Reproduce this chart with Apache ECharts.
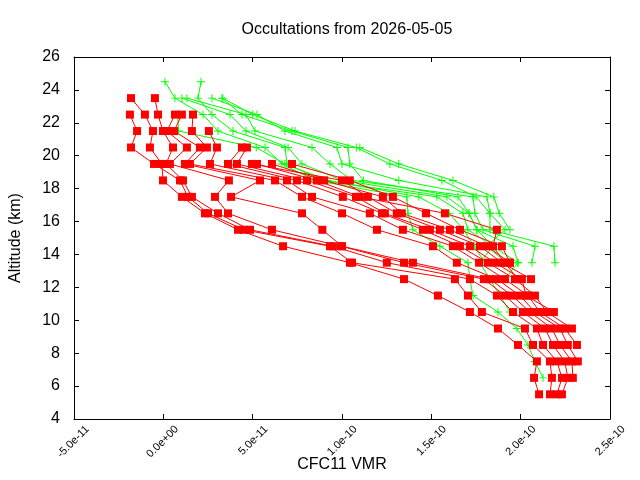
<!DOCTYPE html>
<html>
<head>
<meta charset="utf-8">
<script src="https://cdn.jsdelivr.net/npm/echarts@6/dist/echarts.min.js"></script>
<style>
html, body { margin: 0; padding: 0; background: #fff; }
#chart { width: 640px; height: 480px; }
</style>
</head>
<body>
<div id="chart"></div>
<script>
// profile values are in units of 1e-11 VMR, one entry per altitude level (null = no point)
var UNIT = 1e-11;

var redLevels = [23.5, 22.5, 21.5, 20.5, 19.5, 18.5, 17.5, 16.5, 15.5, 14.5,
                 13.5, 12.5, 11.5, 10.5, 9.5, 8.5, 7.5, 6.5, 5.5];
var redProfiles = [
    [-1.81, -1.03, -0.58, -0.75, -0.08, -0.02, 1.04, 2.33, 4.18, 6.70, 10.44, 13.47, 15.37, 17.16, 18.73, 19.85, 20.91, 20.75, 21.03],
    [null, -1.87, -1.47, -1.81, -0.52, 0.93, 1.38, 2.50, 4.51, 9.33, 10.56, 16.32, 17.05, 17.83, 20.24, 20.69, 21.64, 21.75, 21.64],
    [-0.47, -0.30, -0.02, 0.54, 0.15, 1.10, 1.60, 3.06, 4.85, 9.49, 12.51, 17.16, 18.67, 19.57, 20.91, 21.25, 22.03, 22.31, 22.03],
    [null, 0.65, 0.20, 1.32, 0.37, 3.67, 2.89, 3.62, 6.08, 9.94, 13.47, 17.94, 19.12, 20.13, 21.36, 21.81, 22.47, 22.64, 22.31],
    [null, 1.04, 0.60, 2.05, 1.21, 5.41, 3.79, 7.76, 8.90, 10.00, 13.97, 18.28, 19.51, 20.52, 21.75, 22.20, 22.87, 22.92],
    [null, 1.66, 1.60, 2.44, 1.49, 6.25, 7.76, 10.00, 11.96, 15.09, 16.43, 18.67, 19.96, 20.80, 22.20, 22.64, 23.20],
    [null, null, 2.55, 3.00, 2.61, 6.92, 8.32, 11.56, 13.41, 16.21, 17.67, 19.12, 20.41, 21.08, 22.47, 23.15],
    [null, null, null, 4.40, 3.62, 7.48, 10.05, 12.24, 14.53, 16.60, 18.17, 19.68, 20.80, 21.47, 22.87],
    [null, null, null, 4.68, 4.12, 8.04, 10.78, 12.40, 14.92, 17.16, 18.56, 20.07, 20.30, 21.86],
    [null, null, null, null, 4.96, 10.00, 11.45, 13.07, 15.48, 17.72, 18.95, 20.58],
    [null, null, null, null, 6.08, 9.00, 12.29, 13.35, 16.04, 18.11, 19.40],
    [null, null, null, null, 7.20, 10.44, 12.85, 14.70, 16.60, 18.95, 19.40],
    [null, null, null, null, 5.24, 8.60, 11.00, 15.76, 18.67, 18.45, 19.10, 19.85]
];

var greenLevels = [24.5, 23.5, 22.5, 21.5, 20.5, 19.5, 18.5, 17.5, 16.5, 15.5,
                   14.5, 13.5, 12.5, 11.5, 10.5, 9.5, 8.5, 7.5, 6.5, 5.5];
var greenProfiles = [
    [0.09, 0.65, 2.22, 3.06, 5.69, 6.64, 8.49, 13.63, 13.69, 13.97, 15.48, 17.05, 17.16, 17.33, 18.73, 19.79, 20.41, 20.80, 21.25],
    [2.11, 1.94, 2.72, 3.90, 6.81, 6.92, 8.88, 15.31, 16.77, 17.05, 18.45, 17.72, 18.28, 18.84, 19.40],
    [null, 1.04, 3.73, 4.63, 6.98, 7.76, 10.05, 15.87, 17.11, 17.55, 19.57, 19.85, 19.12],
    [null, 1.32, 4.63, 5.13, 8.32, 9.33, 10.56, 17.33, 17.44, 17.89, 20.80, 20.63],
    [null, 2.72, 5.24, 6.81, 9.72, 10.00, 13.18, 18.11, 18.28, 18.28, 21.86, 21.92],
    [null, 3.28, 4.40, 7.20, 10.33, 10.44, 11.20, 16.49, 17.11, 17.55, 18.45, 19.85],
    [null, 3.33, 5.00, 7.37, 10.80, 12.68, 15.59, 17.50, 18.28, 19.12, 18.10, 19.20],
    [null, null, 0.80, 0.85, 5.20, 6.80, 9.20, 14.30, 16.00, 16.80, 17.40, 18.00],
    [null, null, null, null, 11.00, 13.18, 16.21, 18.50, 18.80, 19.40]
];

var xMin = -5e-11, xMax = 2.5e-10, xStep = 5e-11;
var yMin = 4, yMax = 26, yStep = 2;

var FONT = 'Liberation Sans, Arial, sans-serif';
var PLUS = 'path://M4.4,0h1.2v4.4h4.4v1.2h-4.4v4.4h-1.2v-4.4h-4.4v-1.2h4.4z';

// gnuplot style exponent labels, e.g. 5.0e-11, 0.0e+00
function expLabel(v) {
    if (Math.abs(v) < 1e-20) return '0.0e+00';
    var parts = v.toExponential(1).split('e');
    var sign = parts[1].charAt(0);
    var exp = parts[1].slice(1);
    if (exp.length < 2) exp = '0' + exp;
    return parts[0] + 'e' + sign + exp;
}

function toPoints(levels, values) {
    var pts = [];
    values.forEach(function(v, i) {
        if (v !== null && v !== undefined) pts.push([v * UNIT, levels[i]]);
    });
    return pts;
}

var series = [];
greenProfiles.forEach(function(p) {
    series.push({
        type: 'line',
        data: toPoints(greenLevels, p),
        symbol: PLUS,
        symbolSize: 8,
        showAllSymbol: true,
        itemStyle: { color: '#00ff00' },
        lineStyle: { color: '#00ff00', width: 1 },
        emphasis: { disabled: true }
    });
});
redProfiles.forEach(function(p) {
    series.push({
        type: 'line',
        data: toPoints(redLevels, p),
        symbol: 'rect',
        symbolSize: 8,
        showAllSymbol: true,
        itemStyle: { color: '#ff0000' },
        lineStyle: { color: '#ff0000', width: 1 },
        emphasis: { disabled: true }
    });
});

var axisLine = { show: true, onZero: false, lineStyle: { color: '#000', width: 1 } };
var tick = { show: true, inside: true, length: 5, lineStyle: { color: '#000' } };

var option = {
    animation: false,
    backgroundColor: '#fff',
    title: {
        text: 'Occultations from 2026-05-05',
        left: 342,
        textAlign: 'center',
        top: 17,
        textStyle: { fontFamily: FONT, fontSize: 16, fontWeight: 'normal', color: '#000' }
    },
    grid: { left: 74, right: 30, top: 57, bottom: 61, outerBoundsMode: 'none', containLabel: false },
    xAxis: [{
        type: 'value',
        min: xMin, max: xMax, interval: xStep,
        name: 'CFC11 VMR',
        nameLocation: 'middle',
        nameGap: 38,
        nameMoveOverlap: false,
        nameTextStyle: { fontFamily: FONT, fontSize: 16, color: '#000' },
        axisLine: axisLine,
        axisTick: tick,
        splitLine: { show: false },
        axisLabel: {
            rotate: 45,
            margin: 22,
            padding: [0, -19, 0, 0],
            fontFamily: FONT, fontSize: 11, color: '#000',
            formatter: expLabel
        }
    }, {
        type: 'value', position: 'top',
        min: xMin, max: xMax, interval: xStep,
        axisLine: axisLine, axisTick: tick,
        axisLabel: { show: false }, splitLine: { show: false }
    }],
    yAxis: [{
        type: 'value',
        min: yMin, max: yMax, interval: yStep,
        name: 'Altitude (km)',
        nameLocation: 'middle',
        nameGap: 50,
        nameMoveOverlap: false,
        nameTextStyle: { fontFamily: FONT, fontSize: 16, color: '#000' },
        axisLine: axisLine,
        axisTick: tick,
        splitLine: { show: false },
        axisLabel: { margin: 14, fontFamily: FONT, fontSize: 16, color: '#000' }
    }, {
        type: 'value', position: 'right',
        min: yMin, max: yMax, interval: yStep,
        axisLine: axisLine, axisTick: tick,
        axisLabel: { show: false }, splitLine: { show: false }
    }],
    series: series
};

var chart = echarts.init(document.getElementById('chart'), null, { renderer: 'canvas' });
chart.setOption(option);
</script>
</body>
</html>
